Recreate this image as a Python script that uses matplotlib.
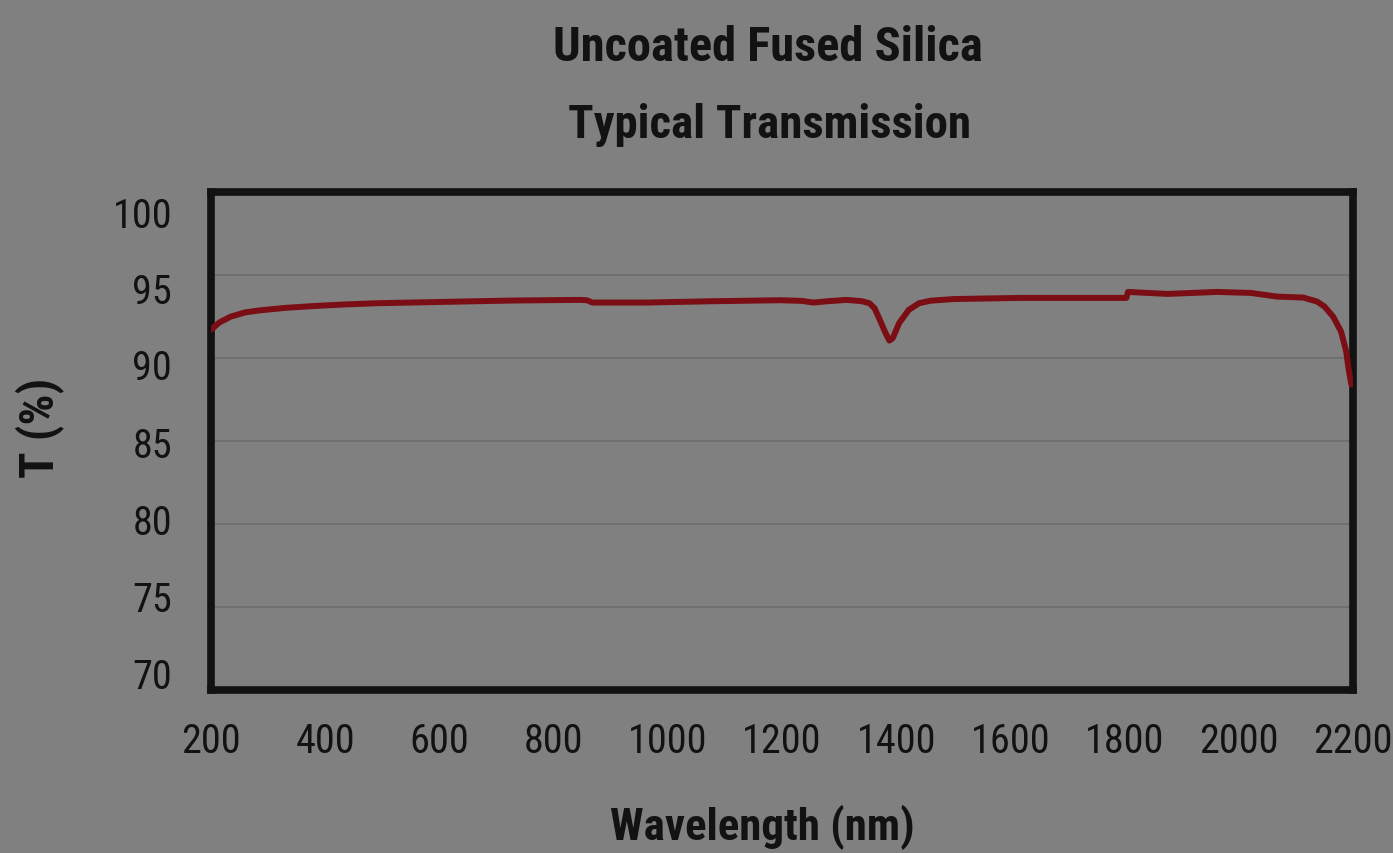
import matplotlib
matplotlib.use("Agg")
import matplotlib.pyplot as plt
from matplotlib.transforms import ScaledTranslation

# transmission curve
wavelength = [200, 215, 235, 260, 288, 330, 375, 430, 491, 550, 607, 665, 725, 785,
              845, 858, 868, 964, 1020, 1080, 1197, 1235, 1255, 1280, 1313, 1340,
              1353, 1362, 1370, 1380, 1388, 1394, 1405, 1422, 1440, 1460, 1500,
              1617, 1700, 1803, 1806, 1875, 1962, 2021, 2050, 2067, 2113, 2137,
              2150, 2165, 2179, 2188, 2192, 2197]
transmission = [91.7, 92.15, 92.5, 92.75, 92.88, 93.02, 93.12, 93.22, 93.3, 93.34,
                93.38, 93.42, 93.46, 93.48, 93.5, 93.48, 93.34, 93.34, 93.38, 93.42,
                93.48, 93.44, 93.34, 93.42, 93.5, 93.42, 93.3, 93.0, 92.4, 91.6,
                91.05, 91.2, 92.1, 92.9, 93.3, 93.45, 93.55, 93.62, 93.62, 93.62,
                93.98, 93.86, 93.98, 93.92, 93.78, 93.7, 93.64, 93.4, 93.1, 92.5,
                91.6, 90.4, 89.4, 88.4]

x_ticks = [200, 400, 600, 800, 1000, 1200, 1400, 1600, 1800, 2000, 2200]
y_ticks = [70, 75, 80, 85, 90, 95, 100]
y_grid = [75, 80, 85, 90, 95]

bg = "#808080"
ink = "#121212"
plt.rcParams["font.family"] = ["Roboto Condensed", "Roboto", "DejaVu Sans"]
plt.rcParams["font.stretch"] = "condensed"

fig = plt.figure(figsize=(13.93, 8.54), dpi=100, facecolor=bg)
ax = fig.add_axes([0.1515, 0.1909, 0.8198, 0.5831], facecolor=bg)

for g in y_grid:
    ax.axhline(g, color="#6c6c6c", lw=1.2, zorder=1)

ax.plot(wavelength, transmission, color="#7a0e14", lw=4.3, zorder=3,
        solid_capstyle="round", solid_joinstyle="round")

ax.set_xlim(200, 2200)
ax.set_ylim(70, 100)
ax.set_xticks(x_ticks)
ax.set_yticks(y_ticks)
ax.tick_params(length=0, labelsize=29, colors=ink)
ax.tick_params(axis="x", pad=22)
ax.tick_params(axis="y", pad=28)

for s in ax.spines.values():
    s.set_color(ink)
    s.set_linewidth(5.5)

# the y labels in the picture are spaced a bit tighter than the gridlines
label_shift = [-17, -11, -5, 1, 6, 13, 19]
for tick, dy in zip(ax.yaxis.get_major_ticks(), label_shift):
    lab = tick.label1
    lab.set_transform(lab.get_transform() + ScaledTranslation(0, -dy / 100, fig.dpi_scale_trans))

ax.set_xlabel("Wavelength (nm)", fontsize=32, fontweight="bold", color=ink)
ax.xaxis.set_label_coords(0.4825, -0.275)
ax.xaxis.label.set_va("center")
ax.set_ylabel("T (%)", fontsize=35, fontweight="bold", color=ink)
ax.yaxis.set_label_coords(-0.150, 0.528)
ax.yaxis.label.set_va("center")

t1 = fig.text(768 / 1393, 1 - 48 / 854, "Uncoated Fused Silica", ha="center", va="center",
              fontsize=36, fontweight="bold", color=ink)
t2 = fig.text(770 / 1393, 1 - 125 / 854, "Typical Transmission", ha="center", va="center",
              fontsize=36, fontweight="bold", color=ink)


def fit_width(t, target_px):
    r = fig.canvas.get_renderer()
    w = t.get_window_extent(r).width
    t.set_fontsize(t.get_fontsize() * target_px / w)


fit_width(t1, 430)
fit_width(t2, 403)
fit_width(ax.xaxis.label, 305)

fig.savefig("out.png", dpi=100, facecolor=bg)
